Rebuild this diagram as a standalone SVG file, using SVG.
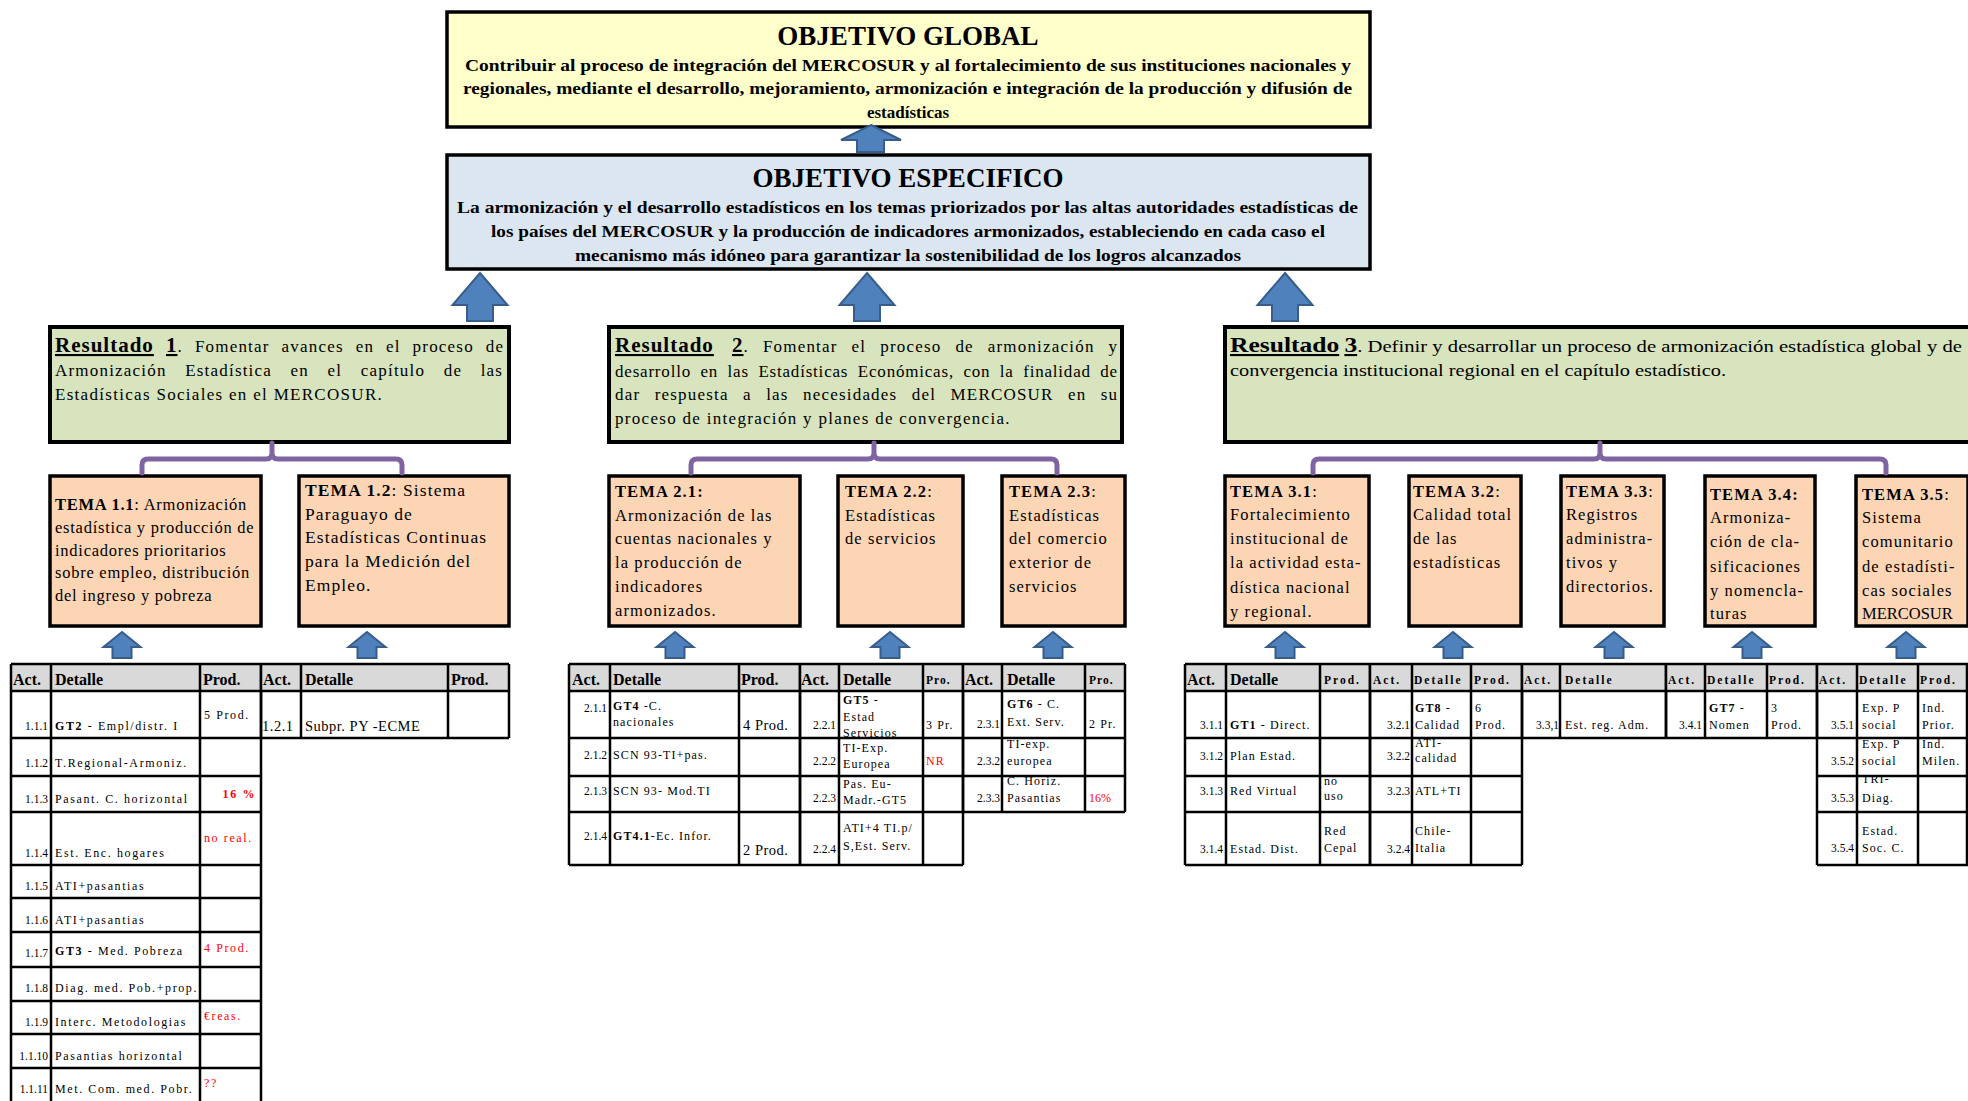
<svg xmlns="http://www.w3.org/2000/svg" xmlns:xlink="http://www.w3.org/1999/xlink" width="1968" height="1101" viewBox="0 0 1968 1101">
<style>
text{font-family:"Liberation Serif","Times New Roman",serif;fill:#000}
.obj{fill:#FFFFCC;stroke:#000;stroke-width:3.5}
.esp{fill:#DCE6F1;stroke:#000;stroke-width:3.5}
.res{fill:#D7E4BD;stroke:#000;stroke-width:4}
.tema{fill:#FCD5B5;stroke:#000;stroke-width:3.5}
.ttl{font-size:27px;font-weight:bold;text-anchor:middle}
.ob{font-size:17px;font-weight:bold}
.rt{font-size:17px;letter-spacing:1.3px}
.rj{font-size:17px;letter-spacing:1.2px}
.rt3{font-size:17px}
.rh{font-size:21px;font-weight:bold;text-decoration:underline;letter-spacing:1px}
.tt{font-size:16.5px;letter-spacing:1.1px}
.t1{letter-spacing:0.75px}
.b{font-weight:bold}
.brk{fill:none;stroke:#8064A2;stroke-width:5;stroke-linecap:round;stroke-linejoin:round}
.arr{fill:#4F81BD;stroke:#385D8A;stroke-width:2}
.hd{fill:#D9D9D9}
.grid{fill:none;stroke:#000;stroke-width:2.5}
.hdr{font-size:16px;font-weight:bold}
.hds{font-size:11.5px;font-weight:bold;letter-spacing:2px}
.num{font-size:11.5px;text-anchor:end}
.c{font-size:12px;letter-spacing:1.1px}
.c1{font-size:12px;letter-spacing:1.6px}
.cl{font-size:14.5px;letter-spacing:0.5px}
.red{fill:#FF0000}
</style>
<defs>
<path id="bigArrow" class="arr" d="M0,0 L27.5,32 L13,32 L13,48 L-13,48 L-13,32 L-27.5,32 Z"/>
<path id="smallArrow" class="arr" d="M0,0 L18.5,15 L9.5,15 L9.5,26 L-9.5,26 L-9.5,15 L-18.5,15 Z"/>
</defs>

<!-- Objetivo Global -->
<g id="objetivo-global">
<rect class="obj" x="447" y="12" width="923" height="115"/>
<text class="ttl" x="908" y="45">OBJETIVO GLOBAL</text>
<text class="ob" x="465" y="71" textLength="886" lengthAdjust="spacingAndGlyphs">Contribuir al proceso de integración del MERCOSUR y al fortalecimiento de sus instituciones nacionales y</text>
<text class="ob" x="463" y="94" textLength="889" lengthAdjust="spacingAndGlyphs">regionales, mediante el desarrollo, mejoramiento, armonización e integración de la producción y difusión de</text>
<text class="ob" x="908" y="118" text-anchor="middle">estadísticas</text>
</g>

<!-- Objetivo Especifico -->
<g id="objetivo-especifico">
<rect class="esp" x="447" y="155" width="923" height="114"/>
<text class="ttl" x="908" y="187">OBJETIVO ESPECIFICO</text>
<text class="ob" x="457" y="213" textLength="901" lengthAdjust="spacingAndGlyphs">La armonización y el desarrollo estadísticos en los temas priorizados por las altas autoridades estadísticas de</text>
<text class="ob" x="491" y="237" textLength="834" lengthAdjust="spacingAndGlyphs">los países del MERCOSUR y la producción de indicadores armonizados, estableciendo en cada caso el</text>
<text class="ob" x="575" y="261" textLength="666" lengthAdjust="spacingAndGlyphs">mecanismo más idóneo para garantizar la sostenibilidad de los logros alcanzados</text>
</g>

<!-- Resultados -->
<g id="resultado-1">
<rect class="res" x="50" y="327" width="459" height="115"/>
<text class="rj" y="352"><tspan class="rh" x="55">Resultado</tspan><tspan class="rh" x="166">1</tspan><tspan>.</tspan><tspan x="194.9">Fomentar</tspan><tspan x="281.6">avances</tspan><tspan x="355.7">en</tspan><tspan x="386">el</tspan><tspan x="412.6">proceso</tspan><tspan x="485.8">de</tspan></text>
<text class="rj" y="376"><tspan x="55">Armonización</tspan><tspan x="185.2">Estadística</tspan><tspan x="290.6">en</tspan><tspan x="327.6">el</tspan><tspan x="360.8">capítulo</tspan><tspan x="443.8">de</tspan><tspan x="480.7">las</tspan></text>
<text class="rt" x="55" y="400">Estadísticas Sociales en el MERCOSUR.</text>
</g>
<g id="resultado-2">
<rect class="res" x="609" y="327" width="513" height="115"/>
<text class="rj" y="352"><tspan class="rh" x="615">Resultado</tspan><tspan class="rh" x="732">2</tspan><tspan>.</tspan><tspan x="762.9">Fomentar</tspan><tspan x="851.6">el</tspan><tspan x="880.2">proceso</tspan><tspan x="955.4">de</tspan><tspan x="987.7">armonización</tspan><tspan x="1108.5">y</tspan></text>
<text class="rj" y="377" style="letter-spacing:0.8px"><tspan x="615">desarrollo</tspan><tspan x="700.5">en</tspan><tspan x="727.6">las</tspan><tspan x="758.4">Estadísticas</tspan><tspan x="857.8">Económicas,</tspan><tspan x="963.4">con</tspan><tspan x="999.8">la</tspan><tspan x="1023.2">finalidad</tspan><tspan x="1100.3">de</tspan></text>
<text class="rj" y="400"><tspan x="615">dar</tspan><tspan x="654.7">respuesta</tspan><tspan x="743.1">a</tspan><tspan x="766.2">las</tspan><tspan x="803">necesidades</tspan><tspan x="911.8">del</tspan><tspan x="950.5">MERCOSUR</tspan><tspan x="1068">en</tspan><tspan x="1100.7">su</tspan></text>
<text class="rt" x="615" y="424">proceso de integración y planes de convergencia.</text>
</g>
<g id="resultado-3">
<rect class="res" x="1225" y="327" width="760" height="115"/>
<text class="rt3" x="1230" y="352" textLength="732" lengthAdjust="spacingAndGlyphs"><tspan class="rh" style="letter-spacing:0">Resultado</tspan> <tspan class="rh" style="letter-spacing:0">3</tspan>. Definir y desarrollar un proceso de armonización estadística global y de</text>
<text class="rt3" x="1230" y="376" textLength="496" lengthAdjust="spacingAndGlyphs">convergencia institucional regional en el capítulo estadístico.</text>
</g>

<!-- Temas -->
<g id="tema-1-1">
<rect class="tema" x="50" y="476" width="211" height="150"/>
<text class="tt t1" x="55" y="510"><tspan class="b">TEMA 1.1</tspan>: Armonización</text>
<text class="tt t1" x="55" y="533">estadística y producción de</text>
<text class="tt t1" x="55" y="556">indicadores prioritarios</text>
<text class="tt t1" x="55" y="578">sobre empleo, distribución</text>
<text class="tt t1" x="55" y="601">del ingreso y pobreza</text>
</g>
<g id="tema-1-2">
<rect class="tema" x="299" y="476" width="210" height="150"/>
<text class="tt" x="305" y="496" style="font-size:17.5px"><tspan class="b">TEMA 1.2</tspan>: Sistema</text>
<text class="tt" x="305" y="520" style="font-size:17.5px">Paraguayo de</text>
<text class="tt" x="305" y="543" style="font-size:17.5px">Estadísticas Continuas</text>
<text class="tt" x="305" y="567" style="font-size:17.5px">para la Medición del</text>
<text class="tt" x="305" y="591" style="font-size:17.5px">Empleo.</text>
</g>
<g id="tema-2-1">
<rect class="tema" x="609" y="476" width="191" height="150"/>
<text class="tt" x="615" y="497"><tspan class="b">TEMA 2.1:</tspan></text>
<text class="tt" x="615" y="521">Armonización de las</text>
<text class="tt" x="615" y="544">cuentas nacionales y</text>
<text class="tt" x="615" y="568">la producción de</text>
<text class="tt" x="615" y="592">indicadores</text>
<text class="tt" x="615" y="616">armonizados.</text>
</g>
<g id="tema-2-2">
<rect class="tema" x="838" y="476" width="125" height="150"/>
<text class="tt" x="845" y="497"><tspan class="b">TEMA 2.2</tspan>:</text>
<text class="tt" x="845" y="521">Estadísticas</text>
<text class="tt" x="845" y="544">de servicios</text>
</g>
<g id="tema-2-3">
<rect class="tema" x="1002" y="476" width="123" height="150"/>
<text class="tt" x="1009" y="497"><tspan class="b">TEMA 2.3</tspan>:</text>
<text class="tt" x="1009" y="521">Estadísticas</text>
<text class="tt" x="1009" y="544">del comercio</text>
<text class="tt" x="1009" y="568">exterior de</text>
<text class="tt" x="1009" y="592">servicios</text>
</g>
<g id="tema-3-1">
<rect class="tema" x="1225" y="476" width="144" height="150"/>
<text class="tt" x="1230" y="497"><tspan class="b">TEMA 3.1</tspan>:</text>
<text class="tt" x="1230" y="520">Fortalecimiento</text>
<text class="tt" x="1230" y="544">institucional de</text>
<text class="tt" x="1230" y="568">la actividad esta-</text>
<text class="tt" x="1230" y="593">dística nacional</text>
<text class="tt" x="1230" y="617">y regional.</text>
</g>
<g id="tema-3-2">
<rect class="tema" x="1409" y="476" width="112" height="150"/>
<text class="tt" x="1413" y="497"><tspan class="b">TEMA 3.2</tspan>:</text>
<text class="tt" x="1413" y="520">Calidad total</text>
<text class="tt" x="1413" y="544">de las</text>
<text class="tt" x="1413" y="568">estadísticas</text>
</g>
<g id="tema-3-3">
<rect class="tema" x="1561" y="476" width="103" height="150"/>
<text class="tt" x="1566" y="497"><tspan class="b">TEMA 3.3</tspan>:</text>
<text class="tt" x="1566" y="520">Registros</text>
<text class="tt" x="1566" y="544">administra-</text>
<text class="tt" x="1566" y="568">tivos y</text>
<text class="tt" x="1566" y="592">directorios.</text>
</g>
<g id="tema-3-4">
<rect class="tema" x="1705" y="476" width="110" height="150"/>
<text class="tt" x="1710" y="500"><tspan class="b">TEMA 3.4:</tspan></text>
<text class="tt" x="1710" y="523">Armoniza-</text>
<text class="tt" x="1710" y="547">ción de cla-</text>
<text class="tt" x="1710" y="572">sificaciones</text>
<text class="tt" x="1710" y="596">y nomencla-</text>
<text class="tt" x="1710" y="619">turas</text>
</g>
<g id="tema-3-5">
<rect class="tema" x="1856" y="476" width="112" height="150"/>
<text class="tt" x="1862" y="500"><tspan class="b">TEMA 3.5</tspan>:</text>
<text class="tt" x="1862" y="523">Sistema</text>
<text class="tt" x="1862" y="547">comunitario</text>
<text class="tt" x="1862" y="572">de estadísti-</text>
<text class="tt" x="1862" y="596">cas sociales</text>
<text class="tt" x="1862" y="619" style="letter-spacing:0">MERCOSUR</text>
</g>

<!-- Connectors -->
<g id="connectors">
<path class="arr" d="M871,125 L901,140 L884,140 L884,152 L857,152 L857,140 L841,140 Z"/>
<use href="#bigArrow" x="480" y="273"/>
<use href="#bigArrow" x="867" y="273"/>
<use href="#bigArrow" x="1285" y="273"/>
<path class="brk" d="M142,473 V465 Q142,459 148,459 H266 Q272,459 272,453 V443 M272,453 Q272,459 278,459 H396 Q402,459 402,465 V473"/>
<path class="brk" d="M691,473 V465 Q691,459 697,459 H868 Q874,459 874,453 V443 M874,453 Q874,459 880,459 H1051 Q1057,459 1057,465 V473"/>
<path class="brk" d="M1313,473 V465 Q1313,459 1319,459 H1594 Q1600,459 1600,453 V443 M1600,453 Q1600,459 1606,459 H1880 Q1886,459 1886,465 V473"/>
<use href="#smallArrow" x="122" y="632"/>
<use href="#smallArrow" x="367" y="632"/>
<use href="#smallArrow" x="675" y="632"/>
<use href="#smallArrow" x="890" y="632"/>
<use href="#smallArrow" x="1053" y="632"/>
<use href="#smallArrow" x="1285" y="632"/>
<use href="#smallArrow" x="1453" y="632"/>
<use href="#smallArrow" x="1614" y="632"/>
<use href="#smallArrow" x="1752" y="632"/>
<use href="#smallArrow" x="1906" y="632"/>
</g>

<!-- Table 1.1 -->
<g id="tabla-1-1">
<rect class="hd" x="11" y="664" width="250" height="27"/>
<path class="grid" d="M11,664 V1105 M51,664 V1105 M200,664 V1105 M261,664 V1105 M11,664 H261 M11,691 H261 M11,738 H261 M11,776 H261 M11,812 H261 M11,865 H261 M11,898 H261 M11,932 H261 M11,967 H261 M11,1001 H261 M11,1034 H261 M11,1068 H261"/>
<text class="hdr" x="13" y="685">Act.</text>
<text class="hdr" x="55" y="685">Detalle</text>
<text class="hdr" x="203" y="685">Prod.</text>
<text class="num" x="48" y="730">1.1.1</text>
<text class="c1" x="55" y="730"><tspan class="b">GT2</tspan>  - Empl/distr. I</text>
<text class="c1" x="204" y="719">5 Prod.</text>
<text class="num" x="48" y="767">1.1.2</text>
<text class="c1" x="55" y="767">T.Regional-Armoniz.</text>
<text class="num" x="48" y="803">1.1.3</text>
<text class="c1" x="55" y="803">Pasant. C. horizontal</text>
<text class="c1 red b" x="256" y="798" text-anchor="end">16 %</text>
<text class="num" x="48" y="857">1.1.4</text>
<text class="c1" x="55" y="857">Est. Enc. hogares</text>
<text class="c1 red" x="204" y="842">no real.</text>
<text class="num" x="48" y="890">1.1.5</text>
<text class="c1" x="55" y="890">ATI+pasantias</text>
<text class="num" x="48" y="924">1.1.6</text>
<text class="c1" x="55" y="924">ATI+pasantias</text>
<text class="num" x="48" y="957">1.1.7</text>
<text class="c1" x="55" y="955"><tspan class="b">GT3</tspan>  - Med. Pobreza</text>
<text class="c1 red" x="204" y="952">4 Prod.</text>
<text class="num" x="48" y="992">1.1.8</text>
<text class="c1" x="55" y="992">Diag. med. Pob.+prop.</text>
<text class="num" x="48" y="1026">1.1.9</text>
<text class="c1" x="55" y="1026">Interc. Metodologias</text>
<text class="c1 red" x="204" y="1020">€reas.</text>
<text class="num" x="48" y="1060">1.1.10</text>
<text class="c1" x="55" y="1060">Pasantias horizontal</text>
<text class="num" x="48" y="1093">1.1.11</text>
<text class="c1" x="55" y="1093">Met. Com. med. Pobr.</text>
<text class="c1 red" x="204" y="1087">??</text>
</g>

<!-- Table 1.2 -->
<g id="tabla-1-2">
<rect class="hd" x="261" y="664" width="248" height="27"/>
<path class="grid" d="M261,664 V738 M301,664 V738 M448,664 V738 M509,664 V738 M261,664 H509 M261,691 H509 M261,738 H509"/>
<text class="hdr" x="263" y="685">Act.</text>
<text class="hdr" x="305" y="685">Detalle</text>
<text class="hdr" x="451" y="685">Prod.</text>
<text class="cl" x="262" y="731">1.2.1</text>
<text class="cl" x="305" y="731">Subpr. PY -ECME</text>
</g>

<!-- Table 2.1 -->
<g id="tabla-2-1">
<rect class="hd" x="569" y="664" width="231" height="27"/>
<path class="grid" d="M569,664 V865 M610,664 V865 M739,664 V865 M800,664 V865 M569,664 H800 M569,691 H800 M569,738 H800 M569,776 H800 M569,812 H800 M569,865 H800"/>
<text class="hdr" x="572" y="685">Act.</text>
<text class="hdr" x="613" y="685">Detalle</text>
<text class="hdr" x="741" y="685">Prod.</text>
<text class="num" x="607" y="712">2.1.1</text>
<text class="c" x="613" y="710"><tspan class="b">GT4</tspan> -C.</text>
<text class="c" x="613" y="726">nacionales</text>
<text class="cl" x="743" y="730">4 Prod.</text>
<text class="num" x="607" y="759">2.1.2</text>
<text class="c" x="613" y="759">SCN 93-TI+pas.</text>
<text class="num" x="607" y="795">2.1.3</text>
<text class="c" x="613" y="795">SCN 93- Mod.TI</text>
<text class="num" x="607" y="840">2.1.4</text>
<text class="c" x="613" y="840"><tspan class="b">GT4.1</tspan>-Ec. Infor.</text>
<text class="cl" x="743" y="855">2 Prod.</text>
</g>

<!-- Table 2.2 -->
<g id="tabla-2-2">
<rect class="hd" x="800" y="664" width="163" height="27"/>
<path class="grid" d="M800,664 V865 M839,664 V865 M923,664 V865 M963,664 V865 M800,664 H963 M800,691 H963 M800,738 H963 M800,776 H963 M800,812 H963 M800,865 H963"/>
<text class="hdr" x="801" y="685">Act.</text>
<text class="hdr" x="843" y="685">Detalle</text>
<text class="hds" x="926" y="684" style="letter-spacing:1px">Pro.</text>
<text class="num" x="836" y="729">2.2.1</text>
<text class="c" x="843" y="704"><tspan class="b">GT5</tspan> -</text>
<text class="c" x="843" y="721">Estad</text>
<text class="c" x="843" y="737">Servicios</text>
<text class="c" x="926" y="729">3 Pr.</text>
<text class="num" x="836" y="765">2.2.2</text>
<text class="c" x="843" y="752">TI-Exp.</text>
<text class="c" x="843" y="768">Europea</text>
<text class="c red" x="926" y="765">NR</text>
<text class="num" x="836" y="802">2.2.3</text>
<text class="c" x="843" y="788">Pas. Eu-</text>
<text class="c" x="843" y="804">Madr.-GT5</text>
<text class="num" x="836" y="853">2.2.4</text>
<text class="c" x="843" y="832">ATI+4 TI.p/</text>
<text class="c" x="843" y="850">S,Est. Serv.</text>
</g>

<!-- Table 2.3 -->
<g id="tabla-2-3">
<rect class="hd" x="963" y="664" width="162" height="27"/>
<path class="grid" d="M963,664 V812 M1002,664 V812 M1085,664 V812 M1125,664 V812 M963,664 H1125 M963,691 H1125 M963,738 H1125 M963,776 H1125 M963,812 H1125"/>
<text class="hdr" x="965" y="685">Act.</text>
<text class="hdr" x="1007" y="685">Detalle</text>
<text class="hds" x="1089" y="684" style="letter-spacing:1px">Pro.</text>
<text class="num" x="1000" y="728">2.3.1</text>
<text class="c" x="1007" y="708"><tspan class="b">GT6</tspan>  - C.</text>
<text class="c" x="1007" y="726">Ext. Serv.</text>
<text class="c" x="1089" y="728">2 Pr.</text>
<text class="num" x="1000" y="765">2.3.2</text>
<text class="c" x="1007" y="748">TI-exp.</text>
<text class="c" x="1007" y="765">europea</text>
<text class="num" x="1000" y="802">2.3.3</text>
<text class="c" x="1007" y="785">C. Horiz.</text>
<text class="c" x="1007" y="802">Pasantias</text>
<text class="c red" x="1089" y="802" style="letter-spacing:0">16%</text>
</g>

<!-- Table 3.1 -->
<g id="tabla-3-1">
<rect class="hd" x="1185" y="664" width="185" height="27"/>
<path class="grid" d="M1185,664 V865 M1226,664 V865 M1320,664 V865 M1370,664 V865 M1185,664 H1370 M1185,691 H1370 M1185,738 H1370 M1185,776 H1370 M1185,812 H1370 M1185,865 H1370"/>
<text class="hdr" x="1187" y="685">Act.</text>
<text class="hdr" x="1230" y="685">Detalle</text>
<text class="hds" x="1324" y="684">Prod.</text>
<text class="num" x="1223" y="729">3.1.1</text>
<text class="c" x="1230" y="729"><tspan class="b">GT1</tspan> - Direct.</text>
<text class="num" x="1223" y="760">3.1.2</text>
<text class="c" x="1230" y="760">Plan Estad.</text>
<text class="num" x="1223" y="795">3.1.3</text>
<text class="c" x="1230" y="795">Red Virtual</text>
<text class="c" x="1324" y="785">no</text>
<text class="c" x="1324" y="800">uso</text>
<text class="num" x="1223" y="853">3.1.4</text>
<text class="c" x="1230" y="853">Estad. Dist.</text>
<text class="c" x="1324" y="835">Red</text>
<text class="c" x="1324" y="852">Cepal</text>
</g>

<!-- Table 3.2 -->
<g id="tabla-3-2">
<rect class="hd" x="1370" y="664" width="152" height="27"/>
<path class="grid" d="M1370,664 V865 M1412,664 V865 M1471,664 V865 M1522,664 V865 M1370,664 H1522 M1370,691 H1522 M1370,738 H1522 M1370,776 H1522 M1370,812 H1522 M1370,865 H1522"/>
<text class="hds" x="1373" y="684">Act.</text>
<text class="hds" x="1414" y="684">Detalle</text>
<text class="hds" x="1474" y="684">Prod.</text>
<text class="num" x="1410" y="729">3.2.1</text>
<text class="c" x="1415" y="712"><tspan class="b">GT8</tspan> -</text>
<text class="c" x="1415" y="729">Calidad</text>
<text class="c" x="1475" y="712">6</text>
<text class="c" x="1475" y="729">Prod.</text>
<text class="num" x="1410" y="760">3.2.2</text>
<text class="c" x="1415" y="747">ATI-</text>
<text class="c" x="1415" y="762">calidad</text>
<text class="num" x="1410" y="795">3.2.3</text>
<text class="c" x="1415" y="795">ATL+TI</text>
<text class="num" x="1410" y="853">3.2.4</text>
<text class="c" x="1415" y="835">Chile-</text>
<text class="c" x="1415" y="852">Italia</text>
</g>

<!-- Table 3.3 -->
<g id="tabla-3-3">
<rect class="hd" x="1522" y="664" width="144" height="27"/>
<path class="grid" d="M1522,664 V738 M1560,664 V738 M1666,664 V738 M1522,664 H1666 M1522,691 H1666 M1522,738 H1666"/>
<text class="hds" x="1524" y="684">Act.</text>
<text class="hds" x="1565" y="684">Detalle</text>
<text class="num" x="1559" y="729">3.3,1</text>
<text class="c" x="1565" y="729">Est. reg. Adm.</text>
</g>

<!-- Table 3.4 -->
<g id="tabla-3-4">
<rect class="hd" x="1666" y="664" width="151" height="27"/>
<path class="grid" d="M1666,664 V738 M1705,664 V738 M1767,664 V738 M1817,664 V738 M1666,664 H1817 M1666,691 H1817 M1666,738 H1817"/>
<text class="hds" x="1668" y="684">Act.</text>
<text class="hds" x="1707" y="684">Detalle</text>
<text class="hds" x="1769" y="684">Prod.</text>
<text class="num" x="1702" y="729">3.4.1</text>
<text class="c" x="1709" y="712"><tspan class="b">GT7</tspan> -</text>
<text class="c" x="1709" y="729">Nomen</text>
<text class="c" x="1771" y="712">3</text>
<text class="c" x="1771" y="729">Prod.</text>
</g>

<!-- Table 3.5 -->
<g id="tabla-3-5">
<rect class="hd" x="1817" y="664" width="151" height="27"/>
<path class="grid" d="M1817,664 V865 M1857,664 V865 M1918,664 V865 M1967,664 V865 M1817,664 H1968 M1817,691 H1968 M1817,738 H1968 M1817,776 H1968 M1817,812 H1968 M1817,865 H1968"/>
<text class="hds" x="1819" y="684">Act.</text>
<text class="hds" x="1859" y="684">Detalle</text>
<text class="hds" x="1920" y="684">Prod.</text>
<text class="num" x="1854" y="729">3.5.1</text>
<text class="c" x="1862" y="712">Exp. P</text>
<text class="c" x="1862" y="729">social</text>
<text class="c" x="1922" y="712">Ind.</text>
<text class="c" x="1922" y="729">Prior.</text>
<text class="num" x="1854" y="765">3.5.2</text>
<text class="c" x="1862" y="748">Exp. P</text>
<text class="c" x="1862" y="765">social</text>
<text class="c" x="1922" y="748">Ind.</text>
<text class="c" x="1922" y="765">Milen.</text>
<text class="num" x="1854" y="802">3.5.3</text>
<text class="c" x="1862" y="783">TRI-</text>
<text class="c" x="1862" y="802">Diag.</text>
<text class="num" x="1854" y="852">3.5.4</text>
<text class="c" x="1862" y="835">Estad.</text>
<text class="c" x="1862" y="852">Soc. C.</text>
</g>
</svg>
